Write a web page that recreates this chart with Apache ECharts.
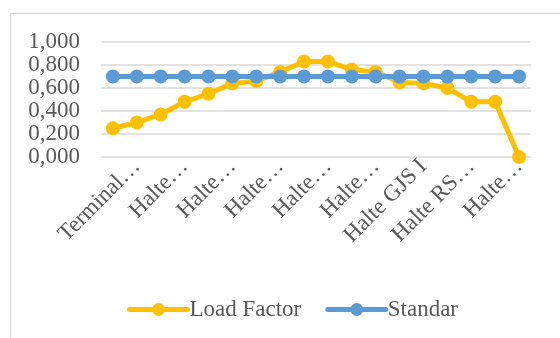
<!DOCTYPE html>
<html>
<head>
<meta charset="utf-8">
<script src="https://cdn.jsdelivr.net/npm/echarts@6/dist/echarts.min.js"></script>
<style>
  html, body { margin: 0; padding: 0; background: #fff; }
  #chart { width: 560px; height: 338px; }
</style>
</head>
<body>
<div id="chart"></div>
<script>
  // data
  const categories = [
    'Terminal…', 'Terminal…', 'Halte…', 'Halte…', 'Halte…', 'Halte…',
    'Halte…', 'Halte…', 'Halte…', 'Halte…', 'Halte…', 'Halte…',
    'Halte…', 'Halte GJS I', 'Halte RS…', 'Halte RS…', 'Halte…', 'Halte…'
  ]
  const loadFactor = [0.25, 0.30, 0.37, 0.48, 0.55, 0.64, 0.66, 0.74, 0.83,
    0.83, 0.76, 0.74, 0.65, 0.64, 0.60, 0.48, 0.48, 0.00]
  const standar = [0.7, 0.7, 0.7, 0.7, 0.7, 0.7, 0.7, 0.7, 0.7,
    0.7, 0.7, 0.7, 0.7, 0.7, 0.7, 0.7, 0.7, 0.7]
  const yTicks = [0, 0.2, 0.4, 0.6, 0.8, 1.0]

  const font = '"Liberation Serif", "Times New Roman", serif'
  const chart = echarts.init(document.getElementById('chart'))

  chart.setOption({
    animation: false,
    textStyle: { fontFamily: font },
    graphic: [{
      type: 'rect',
      shape: { x: 10.5, y: 13.5, width: 600, height: 400 },
      style: { fill: 'none', stroke: '#d9d9d9', lineWidth: 1.5 },
      silent: true
    }],
    grid: { left: 101, right: 29, top: 42, bottom: 181 },
    legend: {
      left: 122,
      top: 293,
      itemWidth: 58,
      itemHeight: 16,
      itemGap: 24,
      lineStyle: { width: 5, cap: 'round' },
      textStyle: { fontFamily: font, fontSize: 23, color: '#595959', padding: [0, 0, 0, -3] },
      data: ['Load Factor', 'Standar']
    },
    xAxis: {
      type: 'category',
      data: categories,
      axisLine: { show: false },
      axisTick: { show: false },
      axisLabel: {
        rotate: 45,
        interval: (i) => i % 2 === 1,
        margin: 6,
        fontFamily: font,
        fontSize: 23,
        color: '#595959'
      }
    },
    yAxis: {
      type: 'value',
      min: yTicks[0],
      max: yTicks[yTicks.length - 1],
      interval: 0.2,
      axisLine: { show: false },
      axisTick: { show: false },
      axisLabel: {
        margin: 21,
        fontFamily: font,
        fontSize: 23,
        color: '#595959',
        formatter: (v) => v.toFixed(3).replace('.', ',')
      },
      splitLine: { lineStyle: { color: '#d9d9d9', width: 1.5 } }
    },
    series: [
      {
        name: 'Load Factor',
        type: 'line',
        data: loadFactor,
        color: '#FFC000',
        symbol: 'circle',
        symbolSize: 14,
        lineStyle: { width: 5 }
      },
      {
        name: 'Standar',
        type: 'line',
        data: standar,
        color: '#5B9BD5',
        symbol: 'circle',
        symbolSize: 14,
        lineStyle: { width: 5 }
      }
    ]
  })
</script>
</body>
</html>
